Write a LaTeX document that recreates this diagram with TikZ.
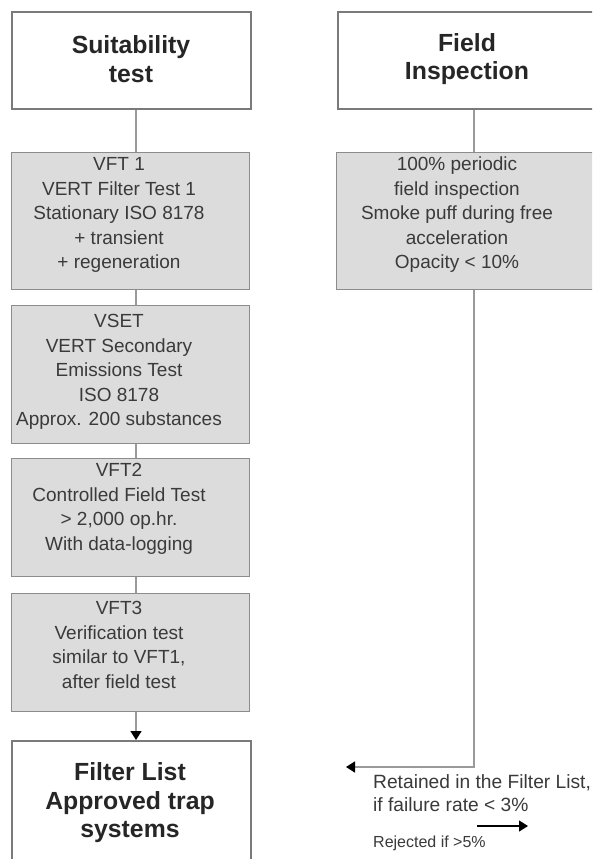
\documentclass[tikz,border=0pt]{standalone}
\usepackage{fontspec}
\setmainfont{Liberation Sans}
\usetikzlibrary{arrows.meta}
\definecolor{boxfill}{HTML}{DCDCDC}
\definecolor{boxline}{HTML}{8C8C8C}
\definecolor{titleline}{HTML}{7A7A7A}
\definecolor{conn}{HTML}{9A9A9A}
\definecolor{txt}{HTML}{3A3A3A}
\tikzset{
  titlebox/.style={draw=titleline, line width=2.2pt, fill=white, inner sep=0pt, anchor=north west},
  graybox/.style={draw=boxline, line width=1.4pt, fill=boxfill, inner sep=0pt, anchor=north west},
  titletext/.style={align=center, font=\fontsize{24.8}{28.5}\selectfont\bfseries, text=black!85, inner sep=0pt},
  graytext/.style={align=center, font=\fontsize{19}{24.5}\selectfont, text=txt, inner sep=0pt},
  conline/.style={draw=conn, line width=1.5pt},
  blackarrow/.style={-{Triangle[length=9pt,width=11pt,color=black]}},
}
\begin{document}
\begin{tikzpicture}[x=1pt,y=-1pt]
\useasboundingbox (0,0) rectangle (592,859);
\clip (0,0) rectangle (592,859);
\fill[white] (0,0) rectangle (592,859);
% left column boxes
\node[titlebox, minimum width=239pt, minimum height=97pt] (suit) at (11,11) {};
\node[titletext] (suitt) at (131,59) {Suitability\\test};
\node[graybox, minimum width=238pt, minimum height=137pt] (vft1) at (11,152) {};
\node[graytext] (vft1t) at (119,215) {VFT 1\\VERT Filter Test 1\\Stationary ISO 8178\\+ transient\\+ regeneration};
\node[graybox, minimum width=238pt, minimum height=138pt] (vset) at (11,305) {};
\node[graytext] (vsett) at (119,372) {VSET\\VERT Secondary\\Emissions Test\\ISO 8178\\Approx. 200 substances};
\node[graybox, minimum width=238pt, minimum height=118pt] (vft2) at (11,458) {};
\node[graytext] (vft2t) at (119,509) {VFT2\\Controlled Field Test\\> 2,000 op.hr.\\With data-logging};
\node[graybox, minimum width=238pt, minimum height=118pt] (vft3) at (11,593) {};
\node[graytext] (vft3t) at (119,645) {VFT3\\Verification test\\similar to VFT1,\\after field test};
\node[titlebox, minimum width=239pt, minimum height=140pt] (flist) at (11,740) {};
\node[titletext] (flistt) at (130,803) {Filter List\\Approved trap\\systems};
% right column boxes
\node[titlebox, minimum width=270pt, minimum height=97pt] (field) at (337,11) {};
\node[titletext] (fieldt) at (467,59) {Field\\Inspection};
\node[graybox, minimum width=270pt, minimum height=137pt] (insp) at (336,152) {};
\node[graytext] (inspt) at (457,215) {100\% periodic\\field inspection\\Smoke puff during free\\acceleration\\Opacity < 10\%};
% connectors left
\coordinate (ltap) at (136,0);
\draw[conline] (suit.south -| ltap) -- (vft1.north -| ltap);
\draw[conline] (vft1.south -| ltap) -- (vset.north -| ltap);
\draw[conline] (vset.south -| ltap) -- (vft2.north -| ltap);
\draw[conline] (vft2.south -| ltap) -- (vft3.north -| ltap);
\draw[conline, blackarrow] (vft3.south -| ltap) -- (flist.north -| ltap);
% connectors right
\coordinate (rtap) at (474,0);
\coordinate (retend) at (346,767);
\draw[conline] (field.south -| rtap) -- (insp.north -| rtap);
\draw[conline, blackarrow] (insp.south -| rtap) |- (retend);
\node[anchor=west, align=left, inner sep=0pt, font=\fontsize{19.2}{23}\selectfont, text=txt] (ret) at (373,793.5) {Retained in the Filter List,\\if failure rate < 3\%};
\coordinate (rejs) at (477,826);
\coordinate (reje) at (528,826);
\draw[line width=1.2pt, black, blackarrow] (rejs) -- (reje);
\node[anchor=west, inner sep=0pt, font=\fontsize{16}{18}\selectfont, text=txt] (rej) at (373,843) {Rejected if >5\%};
\end{tikzpicture}
\end{document}
